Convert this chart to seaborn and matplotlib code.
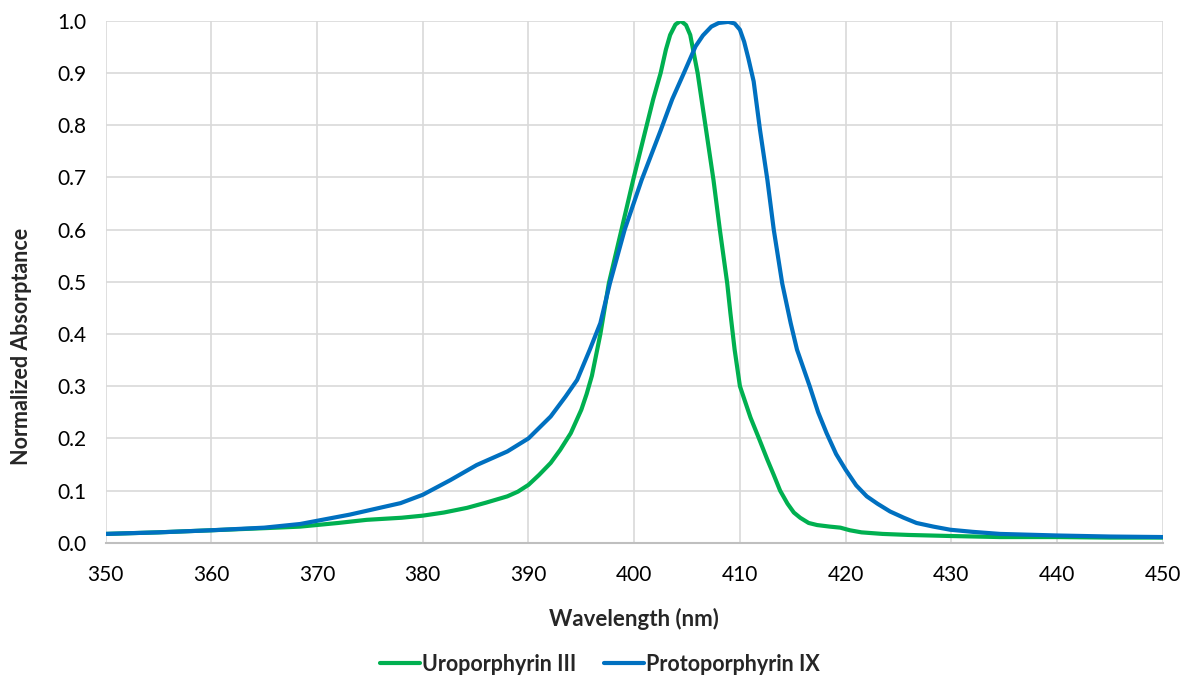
import matplotlib
matplotlib.use("Agg")
import matplotlib.pyplot as plt
import seaborn as sns

# wavelength (nm) / normalized absorptance
uro_nm = [350, 355, 360, 365, 368.4, 372, 374.7, 378, 380, 382, 384.2, 386, 388, 389, 390, 391, 392.1,
          393, 394, 395, 395.5, 396, 396.8, 397.6, 398.8, 399.9, 401.0, 401.8, 402.5, 403.0, 403.4,
          403.9, 404.4, 404.9, 405.3, 406.0, 406.8, 407.5, 408.1, 408.8, 409.1, 409.5, 410, 410.5,
          411, 411.8, 412.6, 413.2, 413.8, 414.5, 415.1, 415.7, 416.5, 417.3, 418.5, 419.5, 420.4,
          421.5, 423.5, 426, 429.9, 434.6, 440, 445, 450]
uro_abs = [0.017, 0.020, 0.024, 0.028, 0.031, 0.038, 0.044, 0.048, 0.052, 0.058, 0.067, 0.077, 0.089,
           0.098, 0.111, 0.13, 0.153, 0.178, 0.21, 0.255, 0.285, 0.32, 0.40, 0.497, 0.60, 0.695, 0.785,
           0.85, 0.90, 0.945, 0.973, 0.993, 1.0, 0.992, 0.973, 0.90, 0.791, 0.695, 0.60, 0.497, 0.44,
           0.37, 0.30, 0.27, 0.24, 0.20, 0.159, 0.13, 0.10, 0.075, 0.058, 0.048, 0.038, 0.034, 0.031,
           0.029, 0.024, 0.020, 0.017, 0.015, 0.013, 0.011, 0.011, 0.010, 0.010]

proto_nm = [350, 355, 360, 365, 368.4, 373.1, 377.9, 380, 382.6, 385.1, 388, 390, 392.1, 393.5, 394.6,
            395.8, 396.8, 397.7, 399.1, 400.7, 402.5, 403.6, 404.7, 405.8, 406.5, 407.3, 408.0, 408.9,
            409.5, 410.0, 410.4, 410.8, 411.3, 411.9, 412.6, 413.2, 414.0, 414.8, 415.4, 416.0, 416.6,
            417.4, 418.2, 419.1, 420, 421, 422, 423, 424.2, 425.5, 426.7, 428.3, 429.9, 432, 434.6,
            440, 445, 450]
proto_abs = [0.017, 0.020, 0.024, 0.029, 0.036, 0.054, 0.076, 0.092, 0.12, 0.149, 0.175, 0.20, 0.242,
             0.28, 0.312, 0.37, 0.421, 0.497, 0.60, 0.695, 0.79, 0.85, 0.90, 0.951, 0.972, 0.989, 0.996,
             0.998, 0.995, 0.983, 0.96, 0.928, 0.884, 0.791, 0.695, 0.60, 0.497, 0.421, 0.37, 0.335,
             0.30, 0.25, 0.21, 0.17, 0.14, 0.11, 0.089, 0.075, 0.06, 0.048, 0.038, 0.031, 0.025, 0.021,
             0.017, 0.014, 0.012, 0.011]

x_ticks = list(range(350, 451, 10))
y_ticks = [i / 10 for i in range(11)]

sns.set_theme(style="whitegrid")
plt.rcParams['font.family'] = ['Lato', 'DejaVu Sans']

fig, ax = plt.subplots(figsize=(12, 6.95), dpi=100)
fig.subplots_adjust(left=0.088, right=0.969, top=0.970, bottom=0.219)

sns.lineplot(x=uro_nm, y=uro_abs, ax=ax, color='#00B050', lw=3, label='Uroporphyrin III')
sns.lineplot(x=proto_nm, y=proto_abs, ax=ax, color='#0070C0', lw=3, label='Protoporphyrin IX')

ax.set_xlim(350, 450)
ax.set_ylim(0, 1.0)
ax.set_xticks(x_ticks)
ax.set_yticks(y_ticks)
ax.set_yticklabels([f'{v:.1f}' for v in y_ticks])
ax.tick_params(axis='both', labelsize=15, length=0, colors='#000000')
ax.tick_params(axis='x', pad=16)
ax.tick_params(axis='y', pad=14)

ax.grid(True, color='#D9D9D9', lw=1.2)
for side in ['left', 'right', 'top']:
    ax.spines[side].set_visible(False)
ax.spines['bottom'].set_color('#BFBFBF')
ax.spines['bottom'].set_linewidth(1.5)

ax.set_xlabel('Wavelength (nm)', fontsize=16, fontweight='bold')
ax.xaxis.set_label_coords(0.5, -0.125)
ax.set_ylabel('Normalized Absorptance', fontsize=15.5, fontweight='bold')
ax.yaxis.set_label_coords(-0.0695, 0.377)

leg = ax.legend(loc='center', bbox_to_anchor=(0.4676, -0.233), ncol=2, frameon=False,
                prop={'size': 15.5, 'weight': 'bold'}, handlelength=1.86, handletextpad=0.1,
                columnspacing=1.3)

fig.savefig('out.png', dpi=100)
